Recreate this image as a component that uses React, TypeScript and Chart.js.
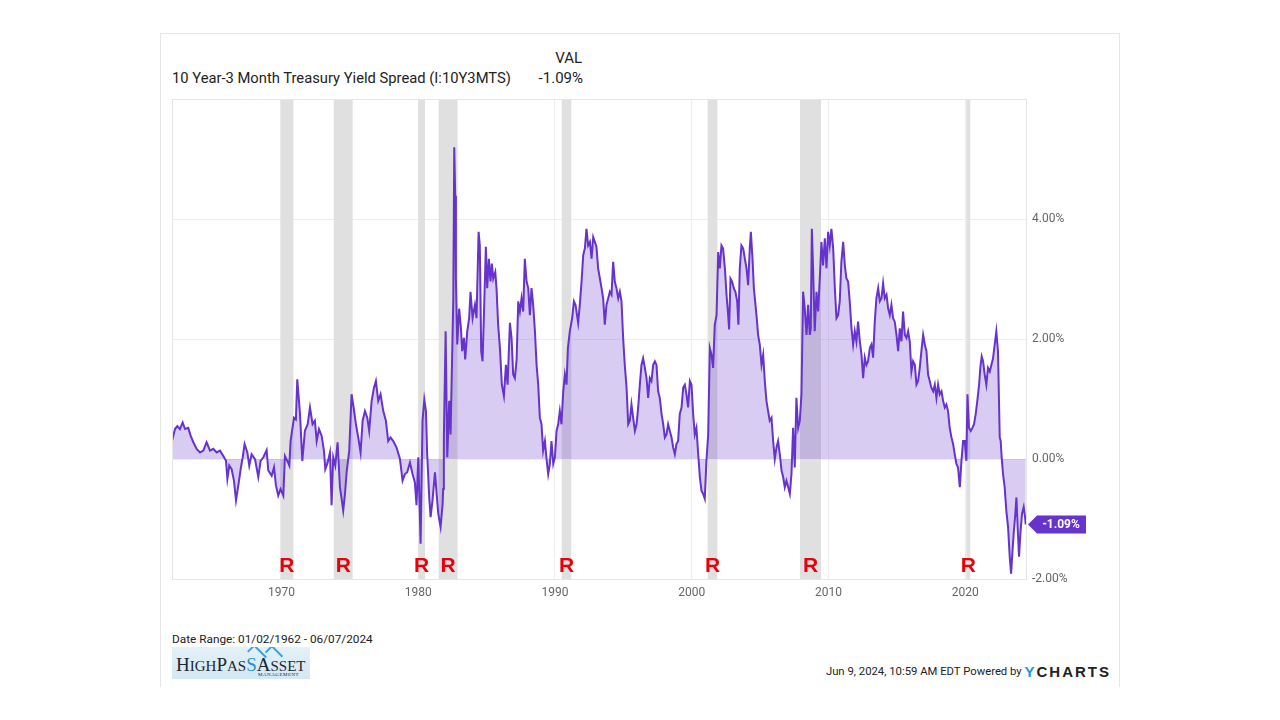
import React, { useEffect, useRef } from "react";
import { Chart, registerables } from "chart.js";

Chart.register(...registerables);

// decimal years
const dates: number[] = [
  1962.00, 1962.22, 1962.39, 1962.58, 1962.78, 1962.95, 1963.19, 1963.36, 1963.56, 1963.80,
  1964.05, 1964.29, 1964.53, 1964.78, 1965.02, 1965.27, 1965.51, 1965.75, 1965.95, 1966.05,
  1966.19, 1966.36, 1966.53, 1966.68, 1966.85, 1967.02, 1967.17, 1967.31, 1967.51, 1967.65,
  1967.82, 1968.07, 1968.31, 1968.48, 1968.68, 1968.92, 1969.04, 1969.29, 1969.46, 1969.60,
  1969.77, 1969.94, 1970.14, 1970.26, 1970.43, 1970.58, 1970.67, 1970.92, 1971.06, 1971.16,
  1971.36, 1971.53, 1971.72, 1971.92, 1972.09, 1972.28, 1972.45, 1972.58, 1972.75, 1972.94,
  1973.11, 1973.21, 1973.38, 1973.55, 1973.67, 1973.79, 1973.94, 1974.11, 1974.28, 1974.40,
  1974.52, 1974.65, 1974.77, 1974.96, 1975.13, 1975.30, 1975.45, 1975.62, 1975.79, 1975.94,
  1976.11, 1976.28, 1976.42, 1976.60, 1976.77, 1976.91, 1977.08, 1977.25, 1977.45, 1977.64,
  1977.81, 1977.98, 1978.18, 1978.42, 1978.67, 1978.86, 1979.03, 1979.20, 1979.40, 1979.59,
  1979.76, 1979.88, 1980.01, 1980.18, 1980.32, 1980.45, 1980.57, 1980.66, 1980.81, 1980.91,
  1981.05, 1981.23, 1981.35, 1981.47, 1981.64, 1981.79, 1981.83, 1981.88, 1982.01, 1982.13,
  1982.27, 1982.37, 1982.44, 1982.57, 1982.64, 1982.71, 1982.76, 1982.86, 1983.00, 1983.13,
  1983.22, 1983.35, 1983.44, 1983.59, 1983.73, 1983.83, 1983.98, 1984.15, 1984.27, 1984.42,
  1984.51, 1984.61, 1984.71, 1984.83, 1984.95, 1985.05, 1985.17, 1985.29, 1985.39, 1985.49,
  1985.64, 1985.73, 1985.85, 1985.98, 1986.12, 1986.27, 1986.42, 1986.54, 1986.71, 1986.83,
  1986.95, 1987.07, 1987.20, 1987.32, 1987.44, 1987.56, 1987.68, 1987.80, 1987.93, 1988.05,
  1988.17, 1988.29, 1988.41, 1988.54, 1988.66, 1988.78, 1988.90, 1989.02, 1989.14, 1989.27,
  1989.39, 1989.51, 1989.63, 1989.75, 1989.88, 1990.00, 1990.12, 1990.24, 1990.36, 1990.48,
  1990.61, 1990.73, 1990.85, 1990.95, 1991.09, 1991.26, 1991.39, 1991.51, 1991.70, 1991.82,
  1991.95, 1992.07, 1992.19, 1992.31, 1992.43, 1992.56, 1992.68, 1992.80, 1992.92, 1993.04,
  1993.16, 1993.29, 1993.41, 1993.53, 1993.65, 1993.77, 1993.90, 1994.02, 1994.14, 1994.26,
  1994.38, 1994.50, 1994.63, 1994.75, 1994.87, 1994.99, 1995.11, 1995.24, 1995.36, 1995.48,
  1995.60, 1995.72, 1995.85, 1995.97, 1996.09, 1996.21, 1996.33, 1996.45, 1996.58, 1996.70,
  1996.82, 1996.94, 1997.06, 1997.19, 1997.31, 1997.43, 1997.55, 1997.67, 1997.80, 1997.92,
  1998.04, 1998.16, 1998.28, 1998.40, 1998.53, 1998.65, 1998.77, 1998.89, 1999.01, 1999.13,
  1999.26, 1999.38, 1999.50, 1999.62, 1999.74, 1999.87, 1999.99, 2000.11, 2000.23, 2000.35,
  2000.48, 2000.60, 2000.72, 2000.84, 2000.96, 2001.08, 2001.21, 2001.33, 2001.45, 2001.57,
  2001.69, 2001.82, 2001.94, 2002.06, 2002.18, 2002.30, 2002.43, 2002.55, 2002.67, 2002.74,
  2002.84, 2002.96, 2003.08, 2003.20, 2003.33, 2003.42, 2003.52, 2003.64, 2003.77, 2003.89,
  2004.01, 2004.13, 2004.25, 2004.33, 2004.45, 2004.55, 2004.74, 2004.86, 2004.98, 2005.11,
  2005.23, 2005.35, 2005.47, 2005.59, 2005.71, 2005.84, 2005.96, 2006.08, 2006.20, 2006.32,
  2006.45, 2006.57, 2006.69, 2006.81, 2006.93, 2007.06, 2007.18, 2007.30, 2007.42, 2007.54,
  2007.66, 2007.79, 2007.91, 2008.03, 2008.15, 2008.27, 2008.40, 2008.52, 2008.64, 2008.71,
  2008.79, 2008.88, 2009.00, 2009.13, 2009.25, 2009.37, 2009.49, 2009.61, 2009.74, 2009.86,
  2009.98, 2010.10, 2010.22, 2010.35, 2010.47, 2010.59, 2010.71, 2010.83, 2010.95, 2011.08,
  2011.20, 2011.32, 2011.44, 2011.56, 2011.69, 2011.81, 2011.93, 2012.05, 2012.17, 2012.30,
  2012.42, 2012.54, 2012.66, 2012.78, 2012.90, 2013.03, 2013.15, 2013.27, 2013.39, 2013.51,
  2013.64, 2013.76, 2013.88, 2014.00, 2014.12, 2014.25, 2014.37, 2014.49, 2014.61, 2014.73,
  2014.85, 2014.98, 2015.10, 2015.22, 2015.34, 2015.46, 2015.59, 2015.71, 2015.83, 2015.95,
  2016.07, 2016.19, 2016.32, 2016.44, 2016.56, 2016.68, 2016.80, 2016.93, 2017.05, 2017.17,
  2017.29, 2017.41, 2017.53, 2017.66, 2017.78, 2017.90, 2018.02, 2018.14, 2018.27, 2018.39,
  2018.51, 2018.63, 2018.75, 2018.87, 2019.00, 2019.12, 2019.24, 2019.36, 2019.48, 2019.61,
  2019.73, 2019.85, 2019.97, 2020.09, 2020.17, 2020.28, 2020.41, 2020.53, 2020.65, 2020.77,
  2020.89, 2021.02, 2021.11, 2021.21, 2021.31, 2021.43, 2021.55, 2021.67, 2021.80, 2021.92,
  2022.04, 2022.16, 2022.28, 2022.40, 2022.53, 2022.60, 2022.67, 2022.77, 2022.89, 2023.01,
  2023.14, 2023.26, 2023.36, 2023.45, 2023.55, 2023.65, 2023.75, 2023.84, 2023.94, 2024.04,
  2024.16, 2024.28, 2024.38, 2024.43,
];

// 10Y-3M spread, percent
const spread: number[] = [
  0.30, 0.50, 0.55, 0.50, 0.61, 0.50, 0.52, 0.39, 0.28, 0.17,
  0.11, 0.14, 0.28, 0.14, 0.17, 0.11, 0.14, 0.05, -0.03, -0.33,
  -0.11, -0.17, -0.36, -0.69, -0.44, -0.17, 0.03, 0.25, 0.11, -0.11,
  0.08, 0.00, -0.30, -0.03, 0.03, 0.15, -0.19, -0.28, -0.14, -0.44,
  -0.61, -0.50, -0.61, 0.05, -0.03, -0.11, 0.30, 0.69, 0.66, 1.33,
  0.75, -0.03, 0.47, 0.58, 0.86, 0.58, 0.64, 0.30, 0.50, 0.39,
  0.14, -0.17, -0.06, 0.11, -0.77, 0.03, -0.11, 0.28, -0.47, -0.66,
  -0.86, -0.58, -0.22, 0.14, 1.08, 0.83, 0.58, 0.36, 0.11, 0.64,
  0.80, 0.69, 0.47, 0.97, 1.19, 1.30, 0.97, 1.08, 0.80, 0.64,
  0.30, 0.36, 0.30, 0.19, 0.00, -0.36, -0.25, -0.22, -0.06, -0.25,
  -0.39, -0.77, 0.03, -1.41, 0.64, 0.99, 0.80, 0.08, -0.64, -0.97,
  -0.69, -0.22, -0.58, -0.91, -1.13, -0.75, -0.50, 0.36, 2.13, 0.03,
  0.97, 0.41, 1.19, 2.68, 5.20, 4.39, 3.01, 1.91, 2.51, 2.18,
  1.80, 2.02, 1.66, 2.13, 2.35, 2.79, 2.35, 2.57, 2.35, 3.79,
  3.56, 1.80, 1.63, 2.57, 3.54, 2.85, 3.34, 2.96, 3.26, 3.01,
  3.12, 2.85, 2.24, 1.85, 1.24, 1.05, 1.57, 1.24, 2.27, 2.02,
  1.41, 1.35, 1.66, 2.63, 2.46, 2.68, 2.46, 3.34, 2.96, 2.85,
  2.40, 2.85, 2.57, 2.13, 1.57, 1.24, 0.69, 0.58, 0.14, 0.30,
  0.00, -0.25, -0.08, 0.30, -0.08, 0.03, 0.47, 0.58, 0.80, 0.58,
  1.13, 1.41, 1.24, 1.85, 2.13, 2.35, 2.63, 2.57, 2.27, 2.57,
  2.96, 3.40, 3.51, 3.84, 3.56, 3.62, 3.34, 3.70, 3.62, 3.54,
  3.18, 3.01, 2.85, 2.68, 2.24, 2.57, 2.68, 2.79, 2.74, 3.29,
  2.96, 2.85, 2.68, 2.79, 2.63, 2.02, 1.57, 1.19, 0.58, 0.64,
  0.91, 0.69, 0.47, 0.58, 0.86, 1.24, 1.57, 1.68, 1.52, 1.35,
  1.02, 1.35, 1.30, 1.57, 1.63, 1.57, 1.13, 1.02, 0.75, 0.58,
  0.36, 0.41, 0.58, 0.47, 0.36, 0.19, 0.08, 0.25, 0.30, 0.75,
  0.86, 1.19, 1.24, 1.08, 0.86, 1.30, 1.24, 0.75, 0.41, 0.52,
  0.08, -0.30, -0.53, -0.58, -0.66, -0.03, 0.41, 1.85, 1.74, 1.52,
  2.24, 2.40, 3.45, 3.18, 3.56, 3.51, 3.18, 2.74, 2.40, 2.16,
  3.01, 2.96, 2.85, 2.79, 2.63, 2.24, 3.18, 3.56, 3.51, 3.34,
  3.18, 2.90, 3.51, 3.79, 3.34, 2.85, 2.40, 2.07, 1.91, 1.57,
  1.74, 1.30, 0.97, 0.80, 0.64, 0.69, 0.30, 0.00, 0.19, 0.30,
  0.08, -0.19, -0.30, -0.47, -0.36, -0.47, -0.58, -0.25, 0.52, -0.14,
  1.02, 0.52, 0.64, 1.08, 2.79, 2.51, 2.07, 2.57, 2.07, 2.18,
  3.84, 3.18, 2.13, 2.79, 2.46, 3.01, 3.62, 3.23, 3.68, 3.18,
  3.79, 3.56, 3.84, 3.51, 2.85, 2.35, 2.40, 2.63, 3.29, 3.62,
  3.23, 3.01, 2.96, 2.63, 2.18, 1.91, 2.13, 1.96, 2.29, 1.96,
  1.74, 1.35, 1.69, 1.57, 1.63, 1.85, 1.91, 1.69, 2.29, 2.68,
  2.85, 2.63, 2.68, 2.93, 2.68, 2.74, 2.51, 2.40, 2.57, 2.35,
  2.29, 2.07, 1.80, 2.18, 1.96, 2.46, 2.07, 2.02, 2.13, 1.96,
  1.46, 1.63, 1.57, 1.24, 1.30, 1.52, 1.80, 2.07, 1.91, 1.80,
  1.41, 1.30, 1.19, 1.13, 1.24, 1.02, 1.24, 1.08, 1.13, 0.97,
  0.86, 0.91, 0.80, 0.52, 0.36, 0.25, 0.08, -0.08, -0.14, -0.47,
  -0.03, 0.30, 0.30, -0.03, 1.08, 0.52, 0.47, 0.52, 0.58, 0.75,
  0.97, 1.24, 1.52, 1.71, 1.63, 1.41, 1.24, 1.52, 1.46, 1.57,
  1.68, 1.91, 2.13, 1.80, 0.36, 0.30, 0.03, -0.25, -0.47, -0.86,
  -1.14, -1.63, -1.91, -1.58, -1.24, -0.97, -0.64, -1.14, -1.63, -1.24,
  -0.91, -0.80, -0.97, -1.09,
];

// NBER recessions [start, end] in decimal years
const recessionStarts: number[] = [1969.92, 1973.83, 1980.0, 1981.5, 1990.5, 2001.17, 2007.92, 2020.08];
const recessionEnds: number[] = [1970.88, 1975.21, 1980.5, 1982.88, 1991.2, 2001.88, 2009.46, 2020.3];

const xTickValues: number[] = [1970, 1980, 1990, 2000, 2010, 2020];
const yTickValues: number[] = [-2, 0, 2, 4];
const lastValue = -1.09;
const lastLabel = "-1.09%";

const PURPLE = "#6633cc";

const overlayPlugin = {
  id: "overlay",
  beforeDatasetsDraw(chart: any) {
    const { ctx, chartArea, scales } = chart;
    const xs = scales.x;
    ctx.save();
    ctx.fillStyle = "#e0e0e0";
    recessionStarts.forEach((s, i) => {
      const x0 = xs.getPixelForValue(s);
      const x1 = xs.getPixelForValue(recessionEnds[i]);
      ctx.fillRect(x0, chartArea.top, Math.max(x1 - x0, 4), chartArea.bottom - chartArea.top);
    });
    ctx.restore();
  },
  afterDatasetsDraw(chart: any) {
    const { ctx, chartArea, scales } = chart;
    const xs = scales.x;
    ctx.save();
    ctx.fillStyle = "#e8000b";
    ctx.font = 'bold 21px "Liberation Sans", Arial, sans-serif';
    ctx.textAlign = "center";
    ctx.textBaseline = "middle";
    recessionStarts.forEach((s, i) => {
      const x0 = xs.getPixelForValue(s);
      const x1 = xs.getPixelForValue(recessionEnds[i]);
      ctx.fillText("R", (x0 + Math.max(x1, x0 + 4)) / 2, chartArea.bottom - 13);
    });
    ctx.restore();
  },
  afterDraw(chart: any) {
    const { ctx, chartArea, scales } = chart;
    ctx.save();
    ctx.strokeStyle = "#e6e6e6";
    ctx.lineWidth = 1;
    ctx.strokeRect(
      Math.round(chartArea.left) + 0.5,
      Math.round(chartArea.top) + 0.5,
      Math.round(chartArea.right - chartArea.left),
      Math.round(chartArea.bottom - chartArea.top)
    );
    // last value tag
    const y = scales.y.getPixelForValue(lastValue);
    const xl = chartArea.right + 2;
    ctx.fillStyle = PURPLE;
    ctx.beginPath();
    ctx.moveTo(xl, y);
    ctx.lineTo(xl + 9, y - 9);
    ctx.lineTo(xl + 58, y - 9);
    ctx.lineTo(xl + 58, y + 9);
    ctx.lineTo(xl + 9, y + 9);
    ctx.closePath();
    ctx.fill();
    ctx.fillStyle = "#ffffff";
    ctx.font = "bold 12px Roboto, sans-serif";
    ctx.textAlign = "center";
    ctx.textBaseline = "middle";
    ctx.fillText(lastLabel, xl + 33, y + 1);
    ctx.restore();
  },
};

function ChartCanvas() {
  const ref = useRef<HTMLCanvasElement | null>(null);
  useEffect(() => {
    if (!ref.current) return;
    const points = dates.map((d, i) => ({ x: d, y: spread[i] }));
    const chart = new Chart(ref.current, {
      type: "line",
      data: {
        datasets: [
          {
            data: points,
            borderColor: PURPLE,
            borderWidth: 2,
            backgroundColor: "rgba(102,51,204,0.25)",
            fill: "origin",
            pointRadius: 0,
            tension: 0,
          },
        ],
      },
      options: {
        responsive: false,
        animation: false,
        parsing: false as any,
        layout: { padding: { left: 12, top: 10, right: 0, bottom: 0 } },
        plugins: { legend: { display: false }, tooltip: { enabled: false } },
        scales: {
          x: {
            type: "linear",
            min: 1962.0,
            max: 2024.45,
            afterBuildTicks: (scale: any) => {
              scale.ticks = xTickValues.map((v) => ({ value: v }));
            },
            afterFit: (scale: any) => {
              scale.height = 30;
            },
            ticks: {
              color: "#666",
              font: { family: "Roboto", size: 12 },
              padding: 7,
              maxRotation: 0,
              callback: (v: any) => String(v),
            },
            grid: { color: "#eeeeee", drawTicks: false },
            border: { display: false },
          },
          y: {
            position: "right",
            min: -2,
            max: 6,
            afterBuildTicks: (scale: any) => {
              scale.ticks = yTickValues.map((v) => ({ value: v }));
            },
            afterFit: (scale: any) => {
              scale.width = 94;
            },
            ticks: {
              color: "#666",
              font: { family: "Roboto", size: 12 },
              padding: 6,
              callback: (v: any) => Number(v).toFixed(2) + "%",
            },
            grid: { color: "#eeeeee", drawTicks: false },
            border: { display: false },
          },
        },
      },
      plugins: [overlayPlugin],
    });
    return () => chart.destroy();
  }, []);
  return (
    <canvas
      ref={ref}
      width={960}
      height={523}
      style={{ position: "absolute", left: 160, top: 86, width: 960, height: 523, display: "block" }}
    />
  );
}

export default function App() {
  const font = "Roboto, 'Liberation Sans', sans-serif";
  return (
    <div style={{ position: "absolute", left: 0, top: 0, width: 1280, height: 720, background: "#fff", fontFamily: font, overflow: "hidden" }}>
      <div
        style={{
          position: "absolute",
          left: 160,
          top: 33,
          width: 958,
          height: 653,
          borderTop: "1px solid #e6e6e6",
          borderLeft: "1px solid #e6e6e6",
          borderRight: "1px solid #e6e6e6",
        }}
      />
      <div style={{ position: "absolute", left: 482, width: 100, top: 49, lineHeight: "18px", fontSize: 15, color: "#222", textAlign: "right" }}>VAL</div>
      <div style={{ position: "absolute", left: 172, top: 69, lineHeight: "18px", fontSize: 14.75, color: "#222", whiteSpace: "nowrap" }}>
        10 Year-3 Month Treasury Yield Spread (I:10Y3MTS)
      </div>
      <div style={{ position: "absolute", left: 483, width: 100, top: 69, lineHeight: "18px", fontSize: 15, color: "#222", textAlign: "right" }}>-1.09%</div>
      <ChartCanvas />
      <div style={{ position: "absolute", left: 172, top: 632, lineHeight: "14px", fontSize: 11.8, color: "#222", whiteSpace: "nowrap" }}>
        Date Range: 01/02/1962 - 06/07/2024
      </div>
      <div
        style={{
          position: "absolute",
          left: 172,
          top: 647,
          width: 138,
          height: 32,
          background: "linear-gradient(180deg, #e4f1f8 0%, #d3e8f3 100%)",
          overflow: "hidden",
        }}
      >
        <div style={{ position: "absolute", left: 4, top: 8, fontFamily: "'Liberation Serif', 'DejaVu Serif', serif", color: "#1d2633", whiteSpace: "nowrap", lineHeight: "20px" }}>
          <span style={{ fontSize: 19 }}>H</span>
          <span style={{ fontSize: 15 }}>IGH</span>
          <span style={{ fontSize: 19 }}>P</span>
          <span style={{ fontSize: 15 }}>AS</span>
          <span style={{ fontSize: 19, color: "#2a8fd0" }}>S</span>
          <span style={{ fontSize: 19 }}>A</span>
          <span style={{ fontSize: 15 }}>SSET</span>
        </div>
        <div style={{ position: "absolute", left: 86, top: 25, fontSize: 5, color: "#1d2633", fontFamily: "serif", letterSpacing: 0.5 }}>MANAGEMENT</div>
        <div style={{ position: "absolute", left: 76, top: 2, width: 16, height: 8, borderTop: "2px solid #39a3dc", borderLeft: "2px solid #39a3dc", transform: "rotate(45deg)" }} />
        <div style={{ position: "absolute", left: 94, top: 2, width: 14, height: 8, borderTop: "2px solid #39a3dc", borderLeft: "2px solid #39a3dc", transform: "rotate(45deg)" }} />
      </div>
      <div style={{ position: "absolute", right: 169, top: 664, lineHeight: "16px", whiteSpace: "nowrap", color: "#222", display: "flex", alignItems: "center" }}>
        <span style={{ fontSize: 11.3 }}>Jun 9, 2024, 10:59 AM EDT Powered by&nbsp;</span>
        <span style={{ fontSize: 15, fontWeight: 700, letterSpacing: 2, color: "#1a9be0", fontFamily: "'Liberation Sans', Arial, sans-serif" }}>Y</span>
        <span style={{ fontSize: 15, fontWeight: 700, letterSpacing: 2, color: "#222", fontFamily: "'Liberation Sans', Arial, sans-serif" }}>CHARTS</span>
      </div>
    </div>
  );
}
